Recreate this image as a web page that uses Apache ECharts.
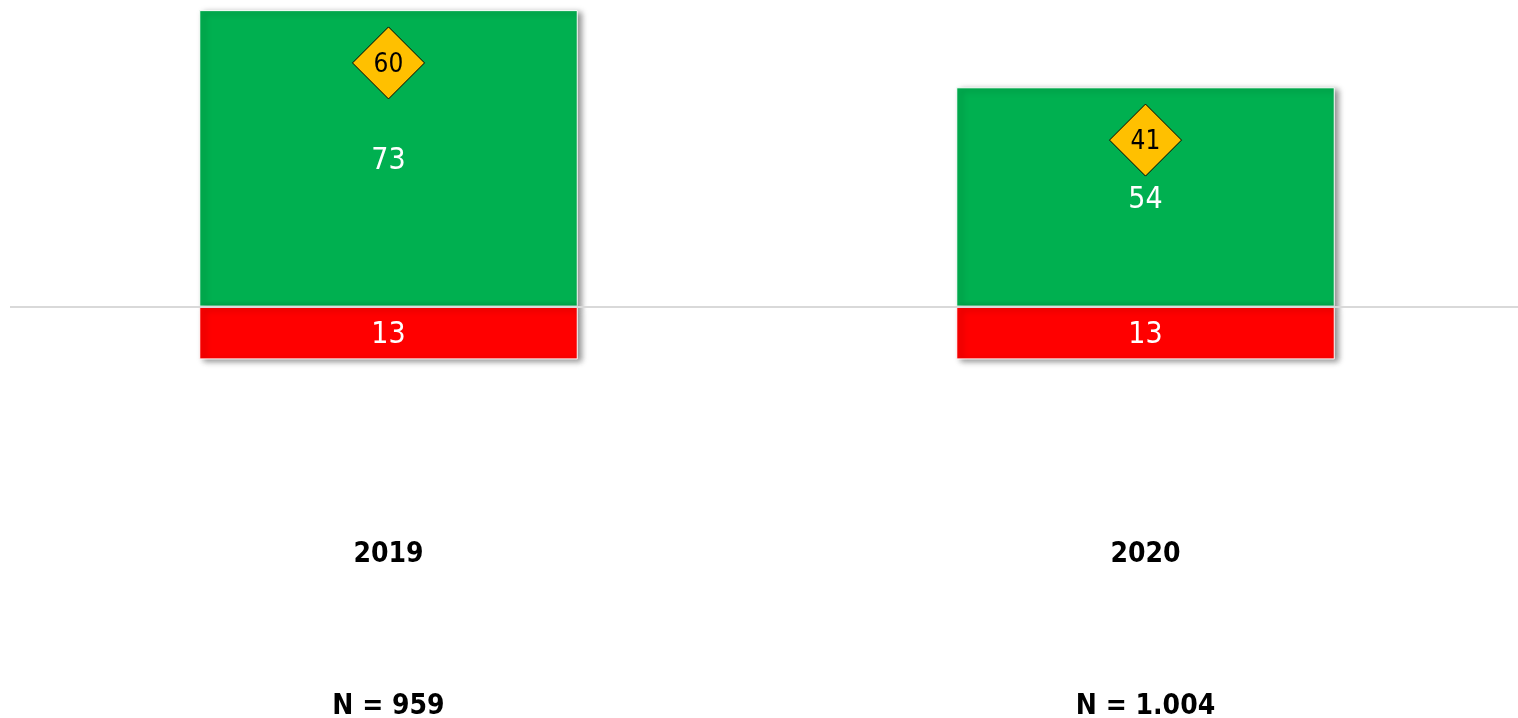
<!DOCTYPE html>
<html>
<head>
<meta charset="utf-8">
<style>
  html, body { margin: 0; padding: 0; background: #fff; }
  #chart { width: 1518px; height: 718px; }
</style>
<script src="https://cdn.jsdelivr.net/npm/echarts@6/dist/echarts.min.js"></script>
</head>
<body>
<div id="chart"></div>
<script>
// Years and sample sizes
const years = ['2019', '2020'];
const sampleLabels = ['N = 959', 'N = 1.004'];
// Share of positive answers (green), negative answers (red) and the balance marker (diamond)
const positiveValues = [73, 54];
const negativeValues = [13, 13];
const balanceValues = [60, 41];

const FONT = '"DejaVu Sans Condensed", "DejaVu Sans", sans-serif';

const barShadow = {
  shadowColor: 'rgba(0,0,0,0.45)',
  shadowBlur: 6,
  shadowOffsetX: 4,
  shadowOffsetY: 2
};

const chart = echarts.init(document.getElementById('chart'));
chart.setOption({
  animation: false,
  textStyle: { fontFamily: FONT },
  grid: { left: 10, right: -6, top: 2, bottom: 188, containLabel: false, outerBoundsMode: 'none' },
  xAxis: [
    {
      type: 'category',
      data: years,
      position: 'bottom',
      axisLine: { show: false, onZero: false },
      axisTick: { show: false },
      axisLabel: { color: '#000', fontSize: 28, fontWeight: 'bold', margin: 11, fontFamily: FONT }
    },
    {
      type: 'category',
      data: sampleLabels,
      position: 'bottom',
      offset: 152,
      axisLine: { show: false, onZero: false },
      axisTick: { show: false },
      axisLabel: { color: '#000', fontSize: 28, fontWeight: 'bold', margin: 11, fontFamily: FONT }
    }
  ],
  yAxis: {
    type: 'value',
    min: -55,
    max: 75,
    show: false,
    splitLine: { show: false }
  },
  series: [
    {
      name: 'positive',
      type: 'bar',
      stack: 'total',
      barWidth: '50%',
      data: positiveValues,
      itemStyle: Object.assign({ color: '#00B050', borderColor: '#fff', borderWidth: 1 }, barShadow),
      label: {
        show: true,
        position: 'inside',
        offset: [0, 3],
        color: '#fff',
        fontSize: 30,
        fontFamily: FONT
      },
      markLine: {
        silent: true,
        symbol: 'none',
        z: 5,
        label: { show: false },
        lineStyle: { color: '#d9d9d9', width: 2, type: 'solid' },
        data: [{ yAxis: 0 }]
      }
    },
    {
      name: 'negative',
      type: 'bar',
      stack: 'total',
      barWidth: '50%',
      data: negativeValues.map(v => -v),
      itemStyle: Object.assign({ color: '#FF0000', borderColor: '#fff', borderWidth: 1 }, barShadow),
      label: {
        show: true,
        position: 'inside',
        offset: [0, 2],
        color: '#fff',
        fontSize: 30,
        fontFamily: FONT,
        formatter: p => Math.abs(p.value)
      }
    },
    {
      name: 'balance',
      type: 'scatter',
      data: balanceValues,
      symbol: 'diamond',
      symbolSize: [72, 72],
      z: 10,
      itemStyle: { color: '#FFC000', borderColor: '#000', borderWidth: 1, opacity: 1 },
      label: {
        show: true,
        position: 'inside',
        offset: [0, 2],
        color: '#000',
        fontSize: 26,
        fontFamily: FONT
      }
    }
  ]
});
</script>
</body>
</html>
